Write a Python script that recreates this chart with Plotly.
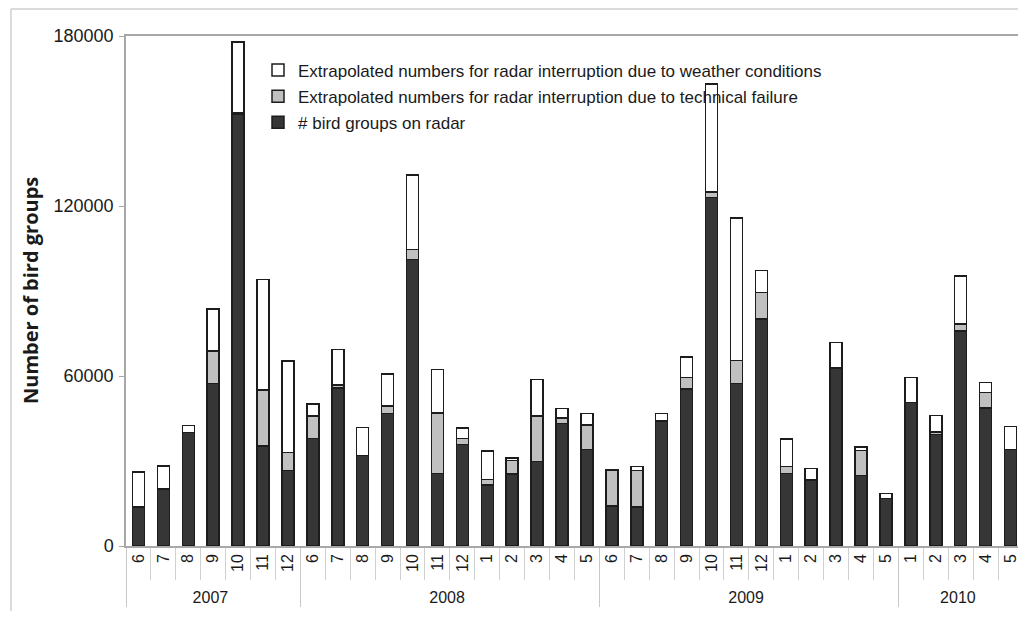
import plotly.graph_objects as go

years = ["2007"] * 7 + ["2008"] * 12 + ["2009"] * 12 + ["2010"] * 5
months = ["6", "7", "8", "9", "10", "11", "12"] + [str(m) for m in range(1, 13)] * 2 + ["1", "2", "3", "4", "5"]

radar = [13800, 20100, 40000, 57300, 152300, 35300, 26700,
         21600, 25500, 29800, 43200, 34100, 38000, 55800, 32000, 46800, 101200, 25600, 35900,
         25600, 23300, 62900, 24800, 16700, 14200, 13800, 44100, 55400, 123000, 57300, 80200,
         50600, 39400, 75800, 48700, 34000]
technical = [0, 0, 0, 11600, 600, 19700, 6300,
             1900, 4700, 16100, 1900, 8600, 7800, 1000, 0, 2600, 3400, 21400, 2000,
             2500, 0, 0, 8900, 0, 12600, 12900, 0, 4000, 1900, 8200, 9200,
             0, 900, 2500, 5400, 0]
weather = [12300, 8100, 2600, 14700, 24900, 39000, 32300,
           10100, 900, 12900, 3400, 4000, 4400, 12500, 9900, 11300, 26300, 15300, 3700,
           9700, 4100, 8900, 1200, 1900, 0, 1400, 2700, 7300, 38100, 50300, 7800,
           8800, 5700, 17000, 3600, 8200]

names = ["# bird groups on radar",
         "Extrapolated numbers for radar interruption due to technical failure",
         "Extrapolated numbers for radar interruption due to weather conditions"]
fills = ["#363636", "#c0c0c0", "#ffffff"]
ranks = [3, 2, 1]
series = [radar, technical, weather]

x = [years, months]
fig = go.Figure()
for i, (nm, vals, col) in enumerate(zip(names, series, fills)):
    fig.add_trace(go.Bar(
        x=x, y=vals, name=nm, legendgroup=str(i), legendrank=ranks[i],
        marker=dict(color=col, line=dict(color="#1c1c1c", width=1.5)),
        width=0.48,
    ))

# the page body adds an 8px offset; visible area ends at about x=1018
OFF = 8
W, H = 1018 - OFF, 619 - 2 * OFF
L, R, T = 126 - OFF, 0, 35.5 - OFF
B = H - (546 - OFF)
pw = W - L - R
ph = H - T - B


def px_x(sx):
    return (sx - OFF - L) / pw


def px_y(sy):
    return (H - B - (sy - OFF)) / ph


fig.update_layout(
    width=W, height=H,
    margin=dict(l=L, r=R, t=T, b=B, autoexpand=False),
    barmode="stack",
    paper_bgcolor="white", plot_bgcolor="white",
    font=dict(family="Liberation Sans, Arial, sans-serif", color="#1a1a1a"),
    showlegend=True,
    legend=dict(
        x=px_x(258), y=px_y(52), xanchor="left", yanchor="top",
        traceorder="grouped", tracegroupgap=1,
        font=dict(size=17, family="Liberation Sans, Arial, sans-serif", color="#1a1a1a"),
        bgcolor="rgba(0,0,0,0)", itemwidth=30,
    ),
    xaxis=dict(
        type="multicategory",
        range=[-0.5, 35.3],
        showline=True, linecolor="#a8a8a8", linewidth=1.5, mirror=True,
        ticks="outside", tickson="boundaries", ticklen=32, tickcolor="#d0d0d0", tickwidth=1,
        tickangle=-90,
        tickfont=dict(size=16, family="Liberation Sans, Arial, sans-serif", color="#1a1a1a"),
        showdividers=True, dividercolor="#c8c8c8", dividerwidth=1,
        showgrid=False, zeroline=False,
    ),
    yaxis=dict(
        range=[0, 180000],
        tickvals=[0, 60000, 120000, 180000],
        ticktext=["0", "60000", "120000", "180000"],
        showline=True, linecolor="#a8a8a8", linewidth=1.5,
        ticks="outside", ticklen=5, tickcolor="#a8a8a8",
        ticklabelstandoff=2,
        tickfont=dict(size=18, family="Liberation Sans, Arial, sans-serif", color="#1a1a1a"),
        showgrid=False, zeroline=False,
    ),
)

fig.add_annotation(
    text="<b>Number of bird groups</b>", textangle=-90,
    xref="paper", yref="paper", x=px_x(30), y=0.5,
    xanchor="center", yanchor="middle", showarrow=False,
    font=dict(size=20, family="Open Sans, sans-serif", color="#1a1a1a"),
)

# outer frame of the figure
fig.add_shape(type="line", xref="paper", yref="paper",
              x0=px_x(11), x1=1, y0=px_y(8.5), y1=px_y(8.5),
              line=dict(color="#cfcfcf", width=1.5))
fig.add_shape(type="line", xref="paper", yref="paper",
              x0=px_x(11), x1=px_x(11), y0=px_y(8.5), y1=px_y(640),
              line=dict(color="#cfcfcf", width=1.5))

fig.write_html("out.html")
